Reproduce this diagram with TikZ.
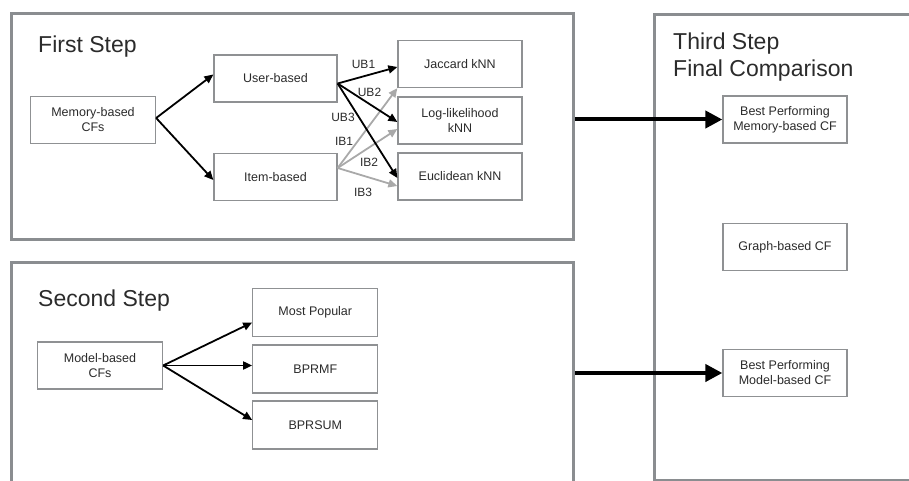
\documentclass[tikz,border=0pt]{standalone}
\usepackage{fontspec}
\setmainfont{Liberation Sans}
\usetikzlibrary{arrows.meta}
\definecolor{panelgray}{HTML}{8A8D90}
\definecolor{boxgray}{HTML}{8F9193}
\definecolor{lightarrow}{HTML}{A9A9A9}
\definecolor{ink}{HTML}{2B2B2B}

\begin{document}
\begin{tikzpicture}[x=1pt,y=-1pt,
  panel/.style={draw=panelgray, line width=3pt, rectangle, inner sep=0pt, anchor=north west},
  box/.style={draw=boxgray, line width=1.3pt, rectangle, minimum width=124pt, minimum height=47pt,
    align=center, text=ink, font=\fontsize{12.5}{15}\selectfont, inner sep=0pt},
  title/.style={anchor=base west, text=ink, font=\fontsize{23}{27}\selectfont, inner sep=0pt},
  lbl/.style={text=ink, font=\fontsize{12}{14}\selectfont, inner sep=0pt},
  arr/.style={line width=1.8pt, -{Triangle[length=9pt,width=8pt]}},
  darr/.style={arr, draw=black},
  larr/.style={arr, draw=lightarrow},
  bigarr/.style={line width=4pt, -{Triangle[length=17pt,width=17pt]}}
]
\useasboundingbox (0,0) rectangle (909,481);
\clip (0,0) rectangle (909,481);

% the three step panels
\node[panel, minimum width=562pt, minimum height=226pt] (p1) at (10,12) {};
\node[panel, minimum width=562pt, minimum height=260pt] (p2) at (10,261) {};
\node[panel, minimum width=300pt, minimum height=466pt] (p3) at (653,13) {};

% titles
\node[title] (t1) at (38,53) {First Step};
\node[title] (t2) at (38,306) {Second Step};
\node[title] (t3) at (673,50) {Third Step};
\node[title] (t3b) at (673,77) {Final Comparison};

% first step: memory-based CFs
\node[box, minimum width=125pt] (mem) at (93,120) {Memory-based\\CFs};
\node[box, minimum width=123pt] (usr) at (275.5,78.5) {User-based};
\node[box, minimum width=123pt] (itm) at (275.5,177) {Item-based};
\node[box] (jac) at (460,64) {Jaccard kNN};
\node[box] (llh) at (460,120.5) {Log-likelihood\\kNN};
\node[box] (euc) at (460,176.5) {Euclidean kNN};

\draw[darr] ([yshift=2pt]mem.east) -- ([yshift=4pt]usr.west);
\draw[darr] ([yshift=2pt]mem.east) -- ([yshift=-3pt]itm.west);

% item-based similarity arrows (grey)
\draw[larr] ([yshift=9pt]itm.east) -- (jac.south west);
\draw[larr] ([yshift=9pt]itm.east) -- ([yshift=-8.5pt]llh.west);
\draw[larr] ([yshift=9pt]itm.east) -- ([yshift=-9.5pt]euc.west);

% user-based similarity arrows (black)
\draw[darr] ([yshift=-5pt]usr.east) -- ([yshift=-3pt]jac.west);
\draw[darr] ([yshift=-5pt]usr.east) -- ([yshift=-1.5pt]llh.west);
\draw[darr] ([yshift=-5pt]usr.east) -- ([yshift=-1.5pt]euc.west);

\node[lbl] (ub1) at (363.5,64) {UB1};
\node[lbl] (ub2) at (369.5,92) {UB2};
\node[lbl] (ub3) at (343,117) {UB3};
\node[lbl] (ib1) at (344,141) {IB1};
\node[lbl] (ib2) at (369,162) {IB2};
\node[lbl] (ib3) at (363,192) {IB3};

% second step: model-based CFs
\node[box, minimum width=125pt] (mdl) at (100,365.5) {Model-based\\CFs};
\node[box, minimum width=125pt, minimum height=48pt] (pop) at (315.3,312.5) {Most Popular};
\node[box, minimum width=125pt, minimum height=48pt] (bmf) at (315.3,369) {BPRMF};
\node[box, minimum width=125pt, minimum height=48pt] (bsum) at (315.3,425) {BPRSUM};

\draw[darr] (mdl.east) -- ([yshift=-10pt]pop.west);
\draw[darr] (mdl.east) -- (bmf.west |- mdl.east);
\draw[darr] (mdl.east) -- ([yshift=5pt]bsum.west);

% third step: final comparison
\node[box] (bmem) at (785,119.5) {Best Performing\\Memory-based CF};
\node[box] (graph) at (785,247) {Graph-based CF};
\node[box] (bmod) at (785,373) {Best Performing\\Model-based CF};

\draw[bigarr] (p1.east |- bmem.west) -- (bmem.west);
\draw[bigarr] (p2.east |- bmod.west) -- (bmod.west);
\end{tikzpicture}
\end{document}
